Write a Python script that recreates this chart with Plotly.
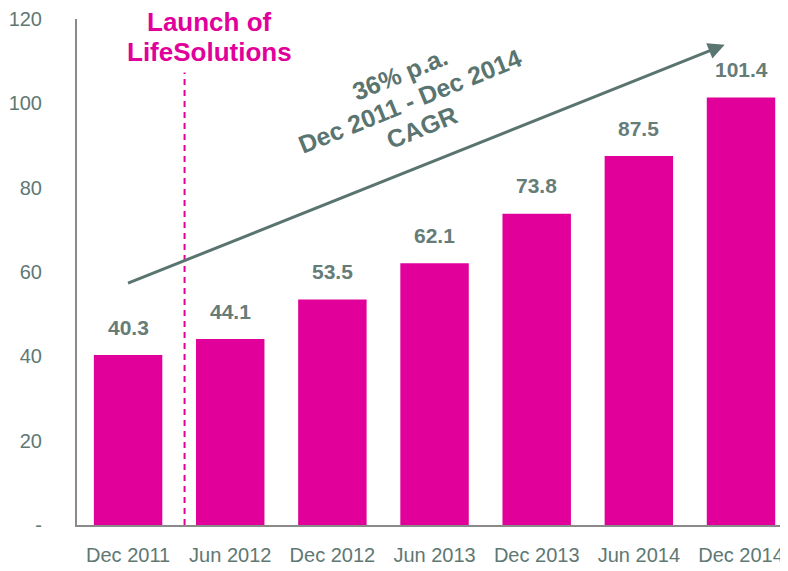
import plotly.graph_objects as go

categories = ["Dec 2011", "Jun 2012", "Dec 2012", "Jun 2013", "Dec 2013", "Jun 2014", "Dec 2014"]
values = [40.3, 44.1, 53.5, 62.1, 73.8, 87.5, 101.4]
y_tickvals = [0, 20, 40, 60, 80, 100, 120]
y_ticktext = ["-", "20", "40", "60", "80", "100", "120"]

PINK = "#E1009A"
GRAY = "#667C78"
TICK = "#5E7873"
ARROW = "#5A7470"

fig = go.Figure()
fig.add_trace(go.Bar(
    x=list(range(len(categories))), y=values,
    marker=dict(color=PINK, line=dict(width=0)),
    width=0.67, hoverinfo="skip",
))

for i, v in enumerate(values):
    fig.add_annotation(x=i, y=v, text=f"<b>{v:.1f}</b>", showarrow=False,
                       yshift=28, font=dict(family="Liberation Sans, Arial", size=21, color=GRAY))

# Launch line
fig.add_shape(type="line", x0=0.553, x1=0.553, y0=0, y1=107.3, xref="x", yref="y",
              line=dict(color=PINK, width=2, dash="6px,5px"))
fig.add_annotation(x=0.80, y=119.4, text="<b>Launch of</b>", showarrow=False,
                   font=dict(family="Liberation Sans, Arial", size=26, color=PINK))
fig.add_annotation(x=0.80, y=112.2, text="<b>LifeSolutions</b>", showarrow=False,
                   font=dict(family="Liberation Sans, Arial", size=26, color=PINK))

# CAGR arrow
fig.add_annotation(x=5.84, y=113.9, ax=-0.015, ay=57.2, xref="x", yref="y", axref="x", ayref="y",
                   showarrow=True, arrowhead=2, arrowsize=1.1, arrowwidth=3, arrowcolor=ARROW,
                   text="")

cagr_lines = [("36% p.a.", 2.66, 106.9), ("Dec 2011 - Dec 2014", 2.76, 100.6), ("CAGR", 2.88, 94.3)]
for t, xx, yy in cagr_lines:
    fig.add_annotation(x=xx, y=yy, text=f"<b>{t}</b>", showarrow=False, textangle=-22,
                       font=dict(family="Liberation Sans, Arial", size=25, color=ARROW))

fig.update_layout(
    width=780, height=563,
    margin=dict(l=69, r=0, t=8, b=46),
    paper_bgcolor="white", plot_bgcolor="white",
    showlegend=False,
    bargap=0.33,
)
fig.update_xaxes(range=[-0.5, 6.46], tickvals=list(range(len(categories))), ticktext=categories,
                 showgrid=False, showline=True, linecolor="#8A8A8A", linewidth=2, ticks="",
                 tickfont=dict(family="Liberation Sans, Arial", size=20, color=TICK), ticklabelstandoff=11,
                 zeroline=False, ticklabeloverflow="allow")
fig.update_yaxes(range=[0, 120], tickvals=y_tickvals, ticktext=y_ticktext,
                 showgrid=False, showline=True, linecolor="#8A8A8A", linewidth=2, ticks="",
                 tickfont=dict(family="Liberation Sans, Arial", size=20, color=TICK), ticklabelstandoff=29,
                 zeroline=False, ticklabeloverflow="allow")

fig.write_html("out.html")
